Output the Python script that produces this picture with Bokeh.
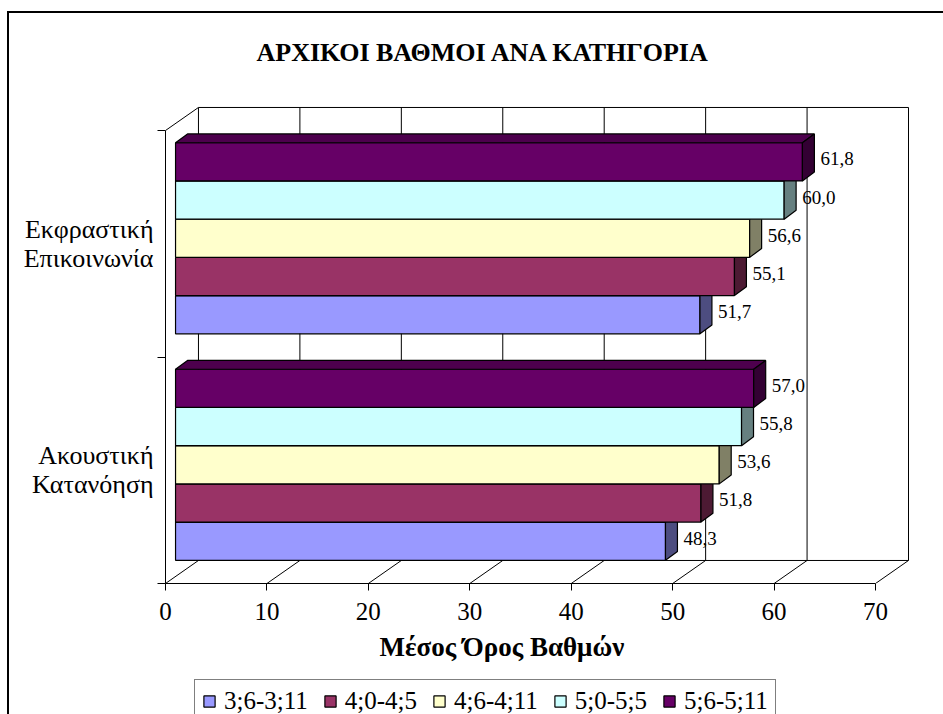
from bokeh.plotting import figure
from bokeh.layouts import column
from bokeh.models import Range1d, FixedTicker, LinearAxis, Legend, LegendItem, Title
from bokeh.embed import file_html
from bokeh.resources import INLINE

# ---------------- data ----------------
title_text = "ΑΡΧΙΚΟΙ ΒΑΘΜΟΙ ΑΝΑ ΚΑΤΗΓΟΡΙΑ"
x_title = "Μέσος Όρος Βαθμών"
categories = ["Ακουστική\nΚατανόηση", "Εκφραστική\nΕπικοινωνία"]   # bottom -> top
series_names = ["3;6-3;11", "4;0-4;5", "4;6-4;11", "5;0-5;5", "5;6-5;11"]
akoustiki = [48.3, 51.8, 53.6, 55.8, 57.0]
ekfrastiki = [51.7, 55.1, 56.6, 60.0, 61.8]
x_ticks = [0, 10, 20, 30, 40, 50, 60, 70]

front_colors = ["#9999FF", "#993366", "#FFFFCC", "#CCFFFF", "#660066"]
side_colors = ["#4D4D80", "#4D1A33", "#808066", "#668080", "#330033"]
top_colors = ["#7373BF", "#73264D", "#BFBF99", "#99BFBF", "#4D004D"]

# ---------------- geometry (data units) ----------------
X_MAX = 70
CAT_H = 6
Y_MAX = CAT_H * len(categories)
DEPTH_X, DEPTH_Y = 3.25, 0.61          # wall depth
BAR_FX, BAR_FY = 0.99, 0.185           # bar front face offset
BAR_BX, BAR_BY = 2.17, 0.42            # bar back face offset
BAR_GAP, BAR_H = 0.43, 1.012
LABEL_DX, LABEL_DY = 0.6, 0.08
FONT = "Liberation Serif"

p = figure(width=934, height=665, output_backend="svg", toolbar_location=None,
           x_range=Range1d(0, 76.70), y_range=Range1d(0, 13.563),
           x_axis_type=None, y_axis_type=None,
           min_border_left=156, min_border_right=0, min_border_top=58, min_border_bottom=95,
           outline_line_color=None, background_fill_color="white", border_fill_color="white")

p.title.text = title_text
p.title.text_font = FONT
p.title.text_font_size = "26px"
p.title.text_font_style = "bold"
p.title.align = "left"
p.title.offset = 91
p.title.text_color = "black"

# ---------------- axes ----------------
xa = LinearAxis(ticker=FixedTicker(ticks=x_ticks), bounds=(0, X_MAX),
                major_tick_out=7, major_tick_in=0, minor_tick_line_color=None,
                axis_line_color="black", major_tick_line_color="black",
                major_label_text_font=FONT, major_label_text_font_size="25px",
                major_label_text_color="black", major_label_standoff=12)
p.add_layout(xa, "below")
p.add_layout(Title(text=x_title, align="left", offset=214, standoff=15, text_font=FONT,
                   text_font_size="27px", text_font_style="bold", text_color="black"), "below")

ya = LinearAxis(ticker=FixedTicker(ticks=[CAT_H / 2, CAT_H * 1.5], minor_ticks=[0, CAT_H, Y_MAX]),
                bounds=(0, Y_MAX), axis_line_color="black",
                major_tick_line_color=None, major_tick_out=0, major_tick_in=0,
                minor_tick_out=8, minor_tick_in=0, minor_tick_line_color="black",
                major_label_overrides={CAT_H / 2: categories[0], CAT_H * 1.5: categories[1]},
                major_label_text_font=FONT, major_label_text_font_size="26px",
                major_label_text_color="black", major_label_standoff=4,
                major_label_text_line_height=1.0)
p.add_layout(ya, "left")

# ---------------- 3D walls ----------------
x0s, y0s, x1s, y1s = [], [], [], []
for t in x_ticks:
    x0s.append(t + DEPTH_X); y0s.append(DEPTH_Y); x1s.append(t + DEPTH_X); y1s.append(Y_MAX + DEPTH_Y)
    x0s.append(t); y0s.append(0); x1s.append(t + DEPTH_X); y1s.append(DEPTH_Y)
x0s += [DEPTH_X, DEPTH_X, 0]
y0s += [Y_MAX + DEPTH_Y, DEPTH_Y, Y_MAX]
x1s += [X_MAX + DEPTH_X, X_MAX + DEPTH_X, DEPTH_X]
y1s += [Y_MAX + DEPTH_Y, DEPTH_Y, Y_MAX + DEPTH_Y]
p.segment(x0=x0s, y0=y0s, x1=x1s, y1=y1s, line_color="black", line_width=1)

# ---------------- bars ----------------
for s, name in enumerate(series_names):
    lefts, rights, bottoms, tops = [], [], [], []
    top_xs, top_ys, side_xs, side_ys = [], [], [], []
    lab_x, lab_y, lab_t = [], [], []
    for c, vals in enumerate([akoustiki, ekfrastiki]):
        v = vals[s]
        y0 = c * CAT_H + BAR_GAP + s * BAR_H
        y1 = y0 + BAR_H
        lefts.append(BAR_FX); rights.append(v + BAR_FX)
        bottoms.append(y0 + BAR_FY); tops.append(y1 + BAR_FY)
        top_xs.append([BAR_FX, v + BAR_FX, v + BAR_BX, BAR_BX])
        top_ys.append([y1 + BAR_FY, y1 + BAR_FY, y1 + BAR_BY, y1 + BAR_BY])
        side_xs.append([v + BAR_FX, v + BAR_FX, v + BAR_BX, v + BAR_BX])
        side_ys.append([y0 + BAR_FY, y1 + BAR_FY, y1 + BAR_BY, y0 + BAR_BY])
        lab_x.append(v + BAR_BX + LABEL_DX)
        lab_y.append(y0 + BAR_H / 2 + BAR_FY + LABEL_DY)
        lab_t.append(f"{v:.1f}".replace(".", ","))
    p.quad(left=lefts, right=rights, bottom=bottoms, top=tops,
           fill_color=front_colors[s], line_color="black", line_width=1.2)
    p.patches(xs=top_xs, ys=top_ys, fill_color=top_colors[s], line_color="black", line_width=1.2)
    p.patches(xs=side_xs, ys=side_ys, fill_color=side_colors[s], line_color="black", line_width=1.2)
    p.text(x=lab_x, y=lab_y, text=lab_t, text_baseline="middle", text_align="left",
           text_font=FONT, text_font_size="19px", text_color="black")

# ---------------- legend strip ----------------
pl = figure(width=934, height=36, output_backend="svg", toolbar_location=None,
            x_range=Range1d(0, 1), y_range=Range1d(0, 1), x_axis_type=None, y_axis_type=None,
            min_border=0, outline_line_color=None, border_fill_color="white")
legend_items = []
for s, name in enumerate(series_names):
    # legend proxy glyph (kept below the visible range of this strip)
    r = pl.quad(left=[0], right=[1], bottom=[-3], top=[-2], fill_color=front_colors[s],
                line_color="black", line_width=1.2)
    legend_items.append(LegendItem(label=name, renderers=[r]))
legend = Legend(items=legend_items, orientation="horizontal", location=(29, -9), margin=0,
                label_text_font=FONT, label_text_font_size="25px", label_text_color="black",
                glyph_width=14, glyph_height=14, label_standoff=8, spacing=15, padding=7,
                border_line_color="black", border_line_width=1.5, background_fill_color="white")
pl.add_layout(legend, "center")

layout = column(p, pl, spacing=0)
layout.styles = {"margin-left": "7px", "margin-top": "11px",
                 "border-left": "2px solid black", "border-top": "2px solid black"}

open("out.html", "w").write(file_html(layout, INLINE))
